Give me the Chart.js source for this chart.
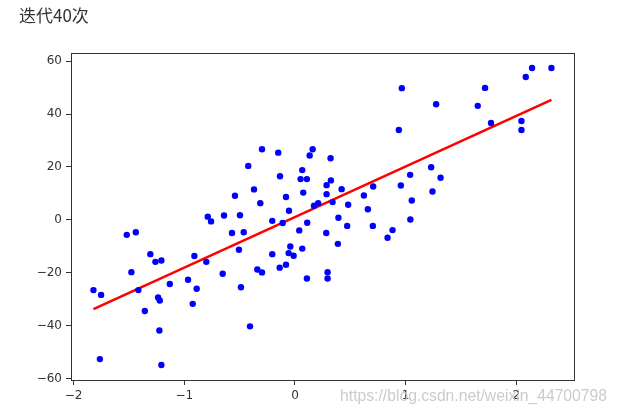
<!DOCTYPE html>
<html>
<head>
<meta charset="utf-8">
<script src="https://cdn.jsdelivr.net/npm/chart.js@4/dist/chart.umd.min.js"></script>
<style>
  body { margin: 0; background: #fff; }
  #wrap { position: relative; width: 617px; height: 419px; }
  #title { position: absolute; left: 19px; top: 2px; font-size: 17px; font-family: "Noto Sans CJK SC"; color: #333; }
  #mark { position: absolute; right: 10px; top: 387px; font-size: 15.7px; font-family: "Liberation Sans"; color: #cbcbcb; }
  canvas { position: absolute; left: 0; top: 0; }
</style>
</head>
<body>
<div id="wrap">
  <canvas id="chart" width="617" height="419"></canvas>
  <div id="title">迭代40次</div>
  <div id="mark">https://blog.csdn.net/weixin_44700798</div>
</div>
<script>
// scatter points
const xs = [-1.821, -1.752, -1.763, -1.520, -1.438, -1.478, -1.415, -1.357, -1.307, -1.261,
  -1.207, -1.237, -1.222, -1.225, -1.207, -1.131, -0.966, -0.924, -0.909, -0.888,
  -0.801, -0.788, -0.758, -0.653, -0.641, -0.569, -0.506, -0.497, -0.542, -0.488,
  -0.463, -0.422, -0.406, -0.370, -0.340, -0.298, -0.313, -0.298, -0.205, -0.205,
  -0.151, -0.135, -0.138, -0.111, -0.081, -0.081, -0.054, -0.057, -0.042, -0.012,
  0.039, 0.051, 0.066, 0.075, 0.066, 0.108, 0.111, 0.108, 0.133, 0.160,
  0.172, 0.210, 0.286, 0.286, 0.283, 0.295, 0.295, 0.322, 0.325, 0.340,
  0.393, 0.388, 0.422, 0.472, 0.481, 0.623, 0.659, 0.704, 0.707, 0.837,
  0.882, 0.939, 0.966, 0.957, 1.041, 1.056, 1.043, 1.231, 1.243, 1.276,
  1.316, 1.652, 1.718, 1.772, 2.047, 2.047, 2.086, 2.143, 2.318];
const ys = [-26.6, -28.4, -52.7, -5.7, -4.7, -19.8, -26.6, -34.5, -13.0, -15.9,
  -15.4, -29.4, -30.5, -41.9, -54.9, -24.3, -22.7, -31.8, -13.7, -26.1,
  -15.9, 1.2, -0.6, -20.4, 1.6, -5.0, -11.3, 1.7, 9.1, -25.5,
  -4.7, 20.4, -40.3, 11.5, -18.8, -19.9, 6.3, 26.7, -13.0, -0.4,
  25.4, 16.5, -18.1, -1.2, 8.6, -17.0, 3.4, -12.6, -10.1, -13.6,
  -4.0, 15.4, 18.8, 10.3, -10.9, 15.4, -1.1, -22.2, 24.3, 26.7,
  5.3, 6.3, 13.1, 9.7, -5.0, -19.8, -22.2, 23.3, 14.9, 6.7,
  0.8, -9.1, 11.6, -2.3, 5.7, 9.2, 4.0, -2.3, 12.6, -6.8,
  -3.9, 34.0, 49.8, 13.0, 17.0, 7.3, 0.1, 19.9, 10.7, 43.7,
  15.9, 43.1, 49.9, 36.6, 37.4, 34.0, 54.0, 57.4, 57.4];

// fitted line after 40 iterations
const lineXs = [-1.821, 2.318];
const lineYs = [-33.8, 45.4];

const xTicks = [-2, -1, 0, 1, 2];
const yTicks = [-60, -40, -20, 0, 20, 40, 60];

const points = xs.map((x, i) => ({ x: x, y: ys[i] }));
const linePts = lineXs.map((x, i) => ({ x: x, y: lineYs[i] }));

const frame = {
  id: 'frame',
  afterDraw(chart) {
    const a = chart.chartArea;
    const ctx = chart.ctx;
    ctx.save();
    ctx.strokeStyle = '#333';
    ctx.lineWidth = 1;
    ctx.strokeRect(a.left + 0.5, a.top + 0.5, a.right - a.left, a.bottom - a.top);
    ctx.restore();
  }
};

const tickFont = { family: 'DejaVu Sans', size: 12 };
const minus = v => String(v).replace('-', '\u2212');

new Chart(document.getElementById('chart'), {
  type: 'scatter',
  data: {
    datasets: [
      {
        data: points,
        backgroundColor: '#0000ff',
        borderColor: '#0000ff',
        pointRadius: 3.2,
        pointBorderWidth: 0
      },
      {
        type: 'line',
        data: linePts,
        borderColor: '#ff0000',
        borderWidth: 2.5,
        pointRadius: 0,
        fill: false
      }
    ]
  },
  options: {
    responsive: false,
    animation: false,
    events: [],
    layout: { padding: { left: 0, top: 53, right: 43, bottom: 0 } },
    plugins: { legend: { display: false }, tooltip: { enabled: false } },
    scales: {
      x: {
        type: 'linear',
        min: -2.024,
        max: 2.522,
        afterFit: s => { s.height = 39; },
        afterBuildTicks: s => { s.ticks = xTicks.map(v => ({ value: v })); },
        ticks: { color: '#333', font: tickFont, padding: 4, callback: minus },
        grid: { drawOnChartArea: false, tickLength: 5, color: '#333' },
        border: { color: '#333' }
      },
      y: {
        type: 'linear',
        min: -60.6,
        max: 63.1,
        afterFit: s => { s.width = 71; },
        afterBuildTicks: s => { s.ticks = yTicks.map(v => ({ value: v })); },
        ticks: { color: '#333', font: tickFont, padding: 4, callback: minus },
        grid: { drawOnChartArea: false, tickLength: 5, color: '#333' },
        border: { color: '#333' }
      }
    }
  },
  plugins: [frame]
});
</script>
</body>
</html>
